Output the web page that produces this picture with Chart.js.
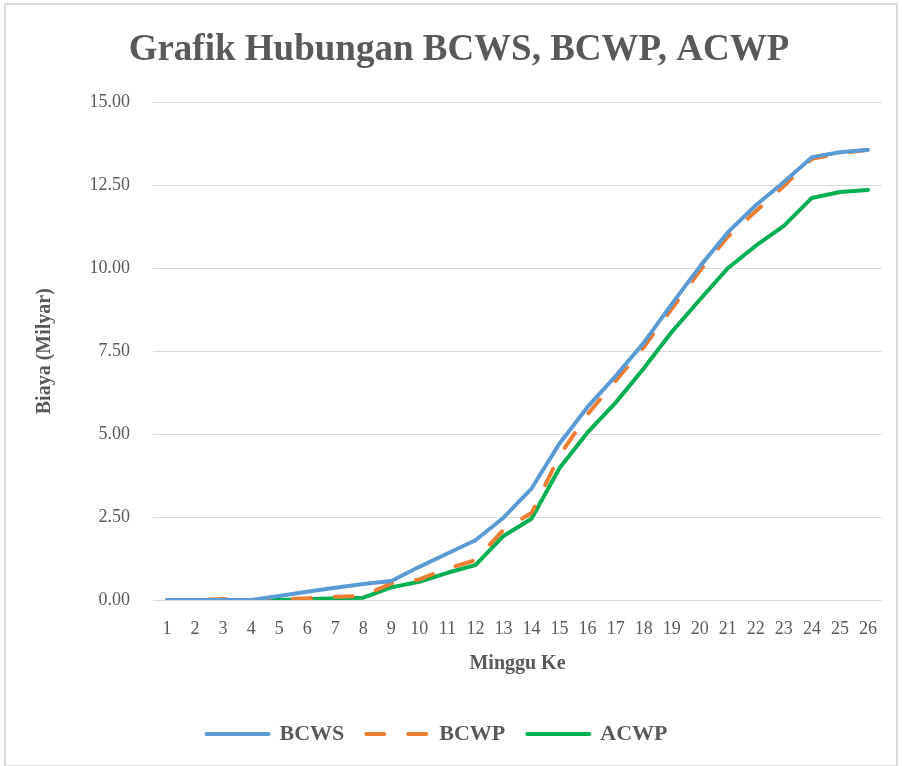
<!DOCTYPE html>
<html>
<head>
<meta charset="utf-8">
<script src="https://cdn.jsdelivr.net/npm/chart.js@4"></script>
<style>
  html, body { margin: 0; padding: 0; background: #ffffff; }
  #frame { position: absolute; left: 4px; top: 3px; width: 894px; height: 764px; border: 2px solid #d9d9d9; box-sizing: border-box; background: #fff; }
  #c { display: block; }
</style>
</head>
<body>
<div id="frame"><canvas id="c" width="890" height="760"></canvas></div>
<script>
const weeks = ['1','2','3','4','5','6','7','8','9','10','11','12','13','14','15','16','17','18','19','20','21','22','23','24','25','26'];
const bcws = [0, 0, 0, 0, 0.12, 0.25, 0.37, 0.48, 0.57, 1.0, 1.4, 1.8, 2.48, 3.36, 4.72, 5.82, 6.75, 7.75, 8.92, 10.05, 11.08, 11.9, 12.6, 13.35, 13.5, 13.57];
const bcwp = [0, 0, 0.03, 0, 0.02, 0.05, 0.1, 0.12, 0.5, 0.62, 0.95, 1.2, 2.12, 2.62, 4.35, 5.6, 6.6, 7.62, 8.78, 9.92, 10.95, 11.72, 12.48, 13.3, 13.47, 13.57];
const acwp = [0, 0, 0, 0, 0, 0.02, 0.05, 0.07, 0.38, 0.55, 0.82, 1.05, 1.93, 2.45, 3.98, 5.05, 5.95, 6.98, 8.08, 9.05, 10.0, 10.68, 11.28, 12.12, 12.3, 12.36];

const seriesNames = ['BCWS', 'BCWP', 'ACWP'];
const chartTitle = 'Grafik Hubungan BCWS, BCWP, ACWP';
const yTitle = 'Biaya (Milyar)';
const xTitle = 'Minggu Ke';

const FONT = '"Liberation Serif", "Times New Roman", serif';
const TXT = '#595959';

// nudges the title and legend blocks horizontally to match the reference placement
const shiftBlocks = {
  id: 'shiftBlocks',
  afterLayout(chart) {
    if (chart.titleBlock) { chart.titleBlock.left += 10; chart.titleBlock.right += 10; }
    if (chart.legend) { chart.legend.left -= 12; chart.legend.right -= 12; }
  }
};

new Chart(document.getElementById('c'), {
  type: 'line',
  data: {
    labels: weeks,
    datasets: [
      { label: seriesNames[0], data: bcws, borderColor: '#5B9BD5', backgroundColor: '#5B9BD5', borderWidth: 4, pointRadius: 0, tension: 0, borderJoinStyle: 'round', borderCapStyle: 'round' },
      { label: seriesNames[1], data: bcwp, borderColor: '#ED7D31', backgroundColor: '#ED7D31', borderWidth: 4, pointRadius: 0, tension: 0, borderDash: [18, 24], borderJoinStyle: 'round', borderCapStyle: 'round' },
      { label: seriesNames[2], data: acwp, borderColor: '#00B050', backgroundColor: '#00B050', borderWidth: 4, pointRadius: 0, tension: 0, borderJoinStyle: 'round', borderCapStyle: 'round' }
    ]
  },
  plugins: [shiftBlocks],
  options: {
    responsive: false,
    animation: false,
    devicePixelRatio: 1,
    layout: { padding: { left: 10, right: 14, top: 10, bottom: 10 } },
    plugins: {
      title: {
        display: true,
        text: chartTitle,
        color: TXT,
        font: { family: FONT, size: 37, weight: 'bold' },
        padding: { top: 13, bottom: 30 }
      },
      legend: {
        position: 'bottom',
        labels: {
          color: TXT,
          font: { family: FONT, size: 22, weight: 'bold' },
          usePointStyle: true,
          pointStyle: 'line',
          pointStyleWidth: 62,
          padding: 22,
          generateLabels: (chart) => chart.data.datasets.map((ds, i) => ({
            text: ds.label,
            fillStyle: ds.borderColor,
            strokeStyle: ds.borderColor,
            lineWidth: 4,
            lineDash: ds.borderDash || [],
            lineCap: 'round',
            lineJoin: 'round',
            pointStyle: 'line',
            fontColor: TXT,
            hidden: false,
            datasetIndex: i
          }))
        }
      },
      tooltip: { enabled: false }
    },
    scales: {
      x: {
        offset: true,
        grid: { display: false, drawTicks: false },
        border: { display: false },
        ticks: { color: TXT, font: { family: FONT, size: 18 }, padding: 18, maxRotation: 0, autoSkip: false },
        title: { display: true, text: xTitle, color: TXT, font: { family: FONT, size: 20, weight: 'bold' }, padding: { top: 0, bottom: 25 } },
        afterFit: (s) => { s.height = 101; }
      },
      y: {
        min: 0, max: 15,
        grid: { color: '#d9d9d9', lineWidth: 1, drawTicks: false },
        border: { display: false },
        ticks: { stepSize: 2.5, color: TXT, font: { family: FONT, size: 18 }, padding: 23, callback: (v) => Number(v).toFixed(2) },
        title: { display: true, text: yTitle, color: TXT, font: { family: FONT, size: 20, weight: 'bold' }, padding: { top: 17, bottom: 0 } },
        afterFit: (s) => { s.width = 137; }
      }
    }
  }
});
</script>
</body>
</html>
